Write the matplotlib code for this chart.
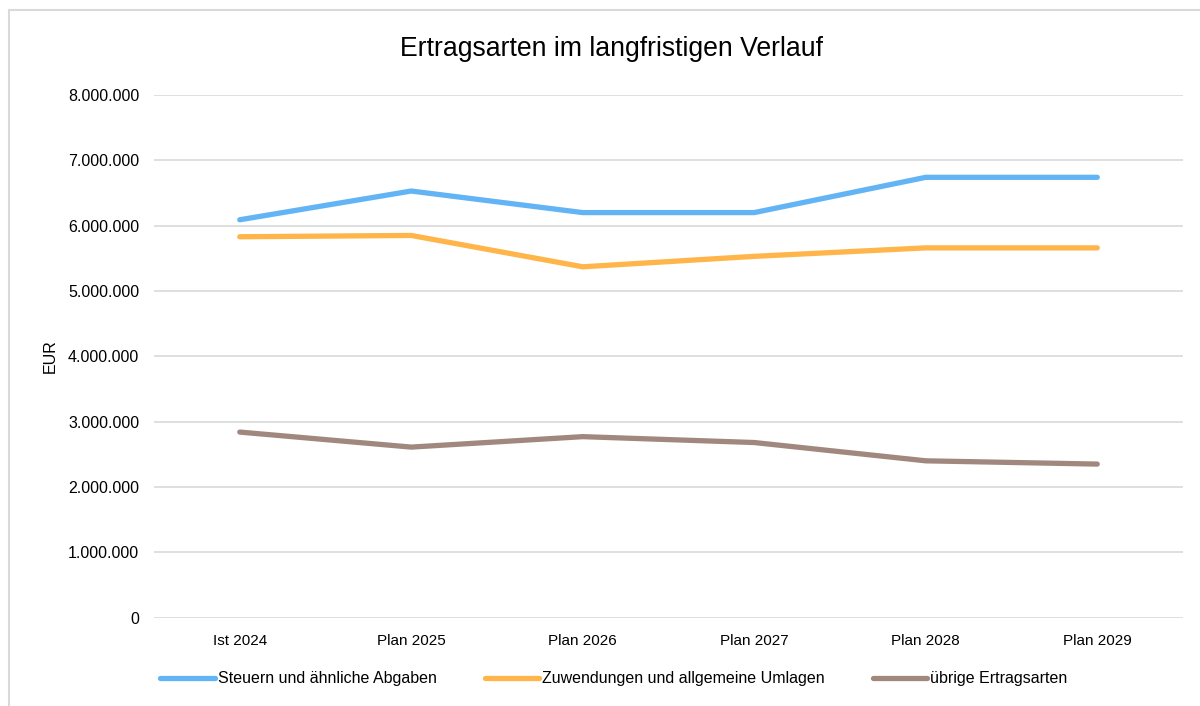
import numpy as np
import matplotlib.pyplot as plt
from matplotlib.patches import Rectangle
from matplotlib.ticker import FuncFormatter

plt.rcParams['font.family'] = ['Liberation Sans', 'DejaVu Sans']

jahre = ['Ist 2024', 'Plan 2025', 'Plan 2026', 'Plan 2027', 'Plan 2028', 'Plan 2029']
steuern = [6090000, 6530000, 6200000, 6200000, 6740000, 6740000]
zuwendungen = [5830000, 5850000, 5370000, 5530000, 5660000, 5660000]
uebrige = [2840000, 2610000, 2770000, 2680000, 2400000, 2350000]
namen = ['Steuern und ähnliche Abgaben', 'Zuwendungen und allgemeine Umlagen', 'übrige Ertragsarten']
farben = ['#63B4F5', '#FFB54A', '#A1887F']

fig = plt.figure(figsize=(12, 7.06), dpi=100)
# Rahmen um das Diagramm (rechts/unten abgeschnitten)
fig.patches.append(Rectangle((9/1200, -0.1), 1.2, 1 - 10/706 + 0.1, transform=fig.transFigure,
                             fill=False, edgecolor='#D9D9D9', linewidth=1.5))

ax = fig.add_axes([154/1200, 1 - 617.6/706, (1183 - 154)/1200, (617.6 - 95)/706])
x = np.arange(len(jahre))
for werte, name, farbe in zip([steuern, zuwendungen, uebrige], namen, farben):
    ax.plot(x, werte, color=farbe, linewidth=3.8, solid_capstyle='round', solid_joinstyle='round', label=name)

ax.set_xlim(-0.5, len(jahre) - 0.5)
ax.set_ylim(0, 8000000)
ax.set_yticks(np.arange(0, 8000001, 1000000))
ax.yaxis.set_major_formatter(FuncFormatter(lambda v, p: f'{int(v):,}'.replace(',', '.')))
ax.set_xticks(x)
ax.set_xticklabels(jahre)
ax.grid(axis='y', color='#D9D9D9', linewidth=1.2)
ax.set_axisbelow(True)
for s in ax.spines.values():
    s.set_visible(False)
ax.tick_params(axis='both', length=0, colors='#000000')
ax.tick_params(axis='y', pad=10.7, labelsize=11.5)
ax.tick_params(axis='x', pad=11.5, labelsize=11)
ax.set_ylabel('EUR', fontsize=11.5, labelpad=7.5)

fig.text(611/1200, 1 - 48.5/706, 'Ertragsarten im langfristigen Verlauf', ha='center', va='center', fontsize=19.2)

fig.legend(loc='center', bbox_to_anchor=(614/1200, 1 - 679/706), ncol=3, frameon=False, fontsize=11.5,
           handlelength=3.4, handletextpad=0.2, columnspacing=3.0)

fig.savefig('out.png', dpi=100)
